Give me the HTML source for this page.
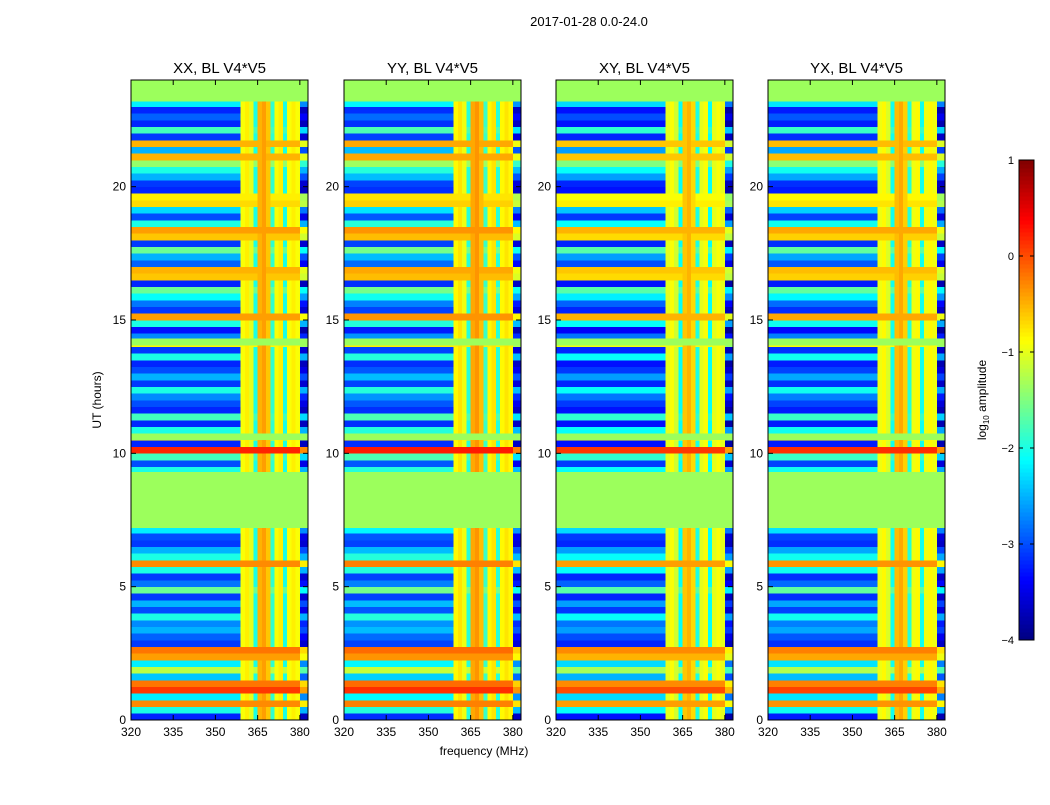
<!DOCTYPE html>
<html><head><meta charset="utf-8"><style>
body{margin:0;background:#fff;font-family:"Liberation Sans",sans-serif;}
svg text{font-family:"Liberation Sans",sans-serif;}
</style></head><body>
<svg id="fig" width="1050" height="800" xmlns="http://www.w3.org/2000/svg">
<rect width="1050" height="800" fill="#fff"/>
<text x="589" y="26" font-size="13" text-anchor="middle">2017-01-28 0.0-24.0</text>
<text x="484" y="755" font-size="12" text-anchor="middle">frequency (MHz)</text>
<text x="101" y="400" font-size="12" text-anchor="middle" transform="rotate(-90 101 400)">UT (hours)</text>
<g id="panels"></g>
<g id="cbar"></g>
</svg>
<script>
const panelTitles=["XX, BL V4*V5","YY, BL V4*V5","XY, BL V4*V5","YX, BL V4*V5"];
const panelOffset=[0,0.05,-0.1,-0.05];
const xTicks=[320,335,350,365,380];
const yTicks=[0,5,10,15,20];
const cbarTicks=[1,0,-1,-2,-3,-4];
// log10 amplitude per 0.25 h time bin (0..24 h), clean band
const rowVals=[-3.2,-2.0,-0.3,-2.2,0.1,-0.2,-2.4,-1.2,-2.2,-0.4,-0.2,-3.1,-2.9,-2.5,-2.7,-2.0,-3.0,-2.5,-3.1,-1.6,-2.8,-3.1,-2.0,-0.3,-2.0,-2.5,-3.1,-3.0,-2.2,
-0.85,-0.85,-0.85,-0.85,-0.85,-0.85,-0.85,-0.85,
-2.0,-3.0,-1.8,0.2,-3.2,-0.85,-2.0,-3.2,-1.8,-3.2,-3.0,-2.7,-2.0,-3.1,-2.5,-3.0,-3.2,-2.0,-3.1,-0.85,-2.7,-3.3,-2.0,-0.4,-3.1,-2.8,-2.1,-1.6,-3.2,-0.6,-0.5,-2.9,-2.5,-1.6,-3.1,-0.6,-0.4,-2.0,-3.0,-2.3,-0.7,-0.8,-3.2,-3.1,-2.5,-2.0,-1.4,-0.5,-2.5,-0.5,-3.1,-1.8,-3.2,-2.9,-3.2,-2.2,-0.85,-0.85,-0.85];
// frequency bins (1.5 MHz from 320): floor value added by RFI (-9 = none)
const colFloor=[-9,-9,-9,-9,-9,-9,-9,-9,-9,-9,-9,-9,-9,-9,-9,-9,-9,-9,-9,-9,-9,-9,-9,-9,-9,-9,
-0.9,-0.8,-1.0,-2.0,-0.5,-0.4,-0.6,-1.9,-0.9,-0.8,-2.0,-0.9,-0.8,-0.9,-9,-9];
const colShift=[0,0,0,0,0,0,0,0,0,0,0,0,0,0,0,0,0,0,0,0,0,0,0,0,0,0,0,0,0,0,0,0,0,0,0,0,0,0,0,0,-0.5,-0.5];
const flags=[[7.2,9.3],[10.5,10.75],[14.05,14.3],[23.2,24]];
const panelX=[131,344,556,768], PW=177, PT=80, PB=720;
const F0=320,F1=382.9,T0=0,T1=24;
function jet(v){let x=(v+4)/5;x=Math.max(0,Math.min(1,x));
 const c=t=>Math.round(255*Math.max(0,Math.min(1,t)));
 return `rgb(${c(1.5-Math.abs(4*x-3))},${c(1.5-Math.abs(4*x-2))},${c(1.5-Math.abs(4*x-1))})`;}
const NS="http://www.w3.org/2000/svg";
function mk(t,a,p){const e=document.createElementNS(NS,t);for(const k in a)e.setAttribute(k,a[k]);p.appendChild(e);return e;}
const G=document.getElementById('panels');
panelX.forEach((px,pi)=>{
 const xs=f=>px+(f-F0)/(F1-F0)*PW;
 const ys=t=>PB-(t-T0)/(T1-T0)*(PB-PT);
 const g=mk('g',{},G);
 
 
 const hm=mk('g',{'shape-rendering':'crispEdges'},g);
 
 
 const dt=24/rowVals.length, df=1.5;
 rowVals.forEach((rv,ri)=>{
  colFloor.forEach((cf,ci)=>{
   const f0=F0+ci*df, f1=Math.min(F1,f0+df);
   let v=Math.max(rv+colShift[ci],cf)+panelOffset[pi];
   const r=mk('rect',{x:xs(f0),y:ys((ri+1)*dt),width:xs(f1)-xs(f0)+0.3,height:ys(ri*dt)-ys((ri+1)*dt)+0.3,fill:jet(v)},hm);
   
   
  });
 });
 flags.forEach(fl=>{
  const r=mk('rect',{x:px,y:ys(fl[1]),width:PW,height:ys(fl[0])-ys(fl[1]),fill:'#9cff5c'},hm);
  
  
 });
 const fr=mk('rect',{x:px,y:PT,width:PW,height:PB-PT,fill:'none',stroke:'#000','stroke-width':1},g);
 
 
 const tt=mk('text',{x:px+PW/2,y:73,'font-size':15,'text-anchor':'middle'},g);tt.textContent=panelTitles[pi];
 
 
 xTicks.forEach(f=>{const x=xs(f);
  mk('line',{x1:x,x2:x,y1:PB,y2:PB-5,stroke:'#000'},g);mk('line',{x1:x,x2:x,y1:PT,y2:PT+5,stroke:'#000'},g);
  const t=mk('text',{x:x,y:PB+16,'font-size':12,'text-anchor':'middle'},g);t.textContent=f;
  
  });
 yTicks.forEach(h=>{const y=ys(h);
  mk('line',{x1:px,x2:px+5,y1:y,y2:y,stroke:'#000'},g);mk('line',{x1:px+PW,x2:px+PW-5,y1:y,y2:y,stroke:'#000'},g);
  const t=mk('text',{x:px-5,y:y+4,'font-size':12,'text-anchor':'end'},g);t.textContent=h;
  
  });
});
const C=document.getElementById('cbar');


const cx=1019,cw=15,ct=160,cb=640,vmin=-4,vmax=1;
const cy=v=>cb-(v-vmin)/(vmax-vmin)*(cb-ct);
for(let i=0;i<120;i++){const v0=vmin+i*(vmax-vmin)/120,v1=v0+(vmax-vmin)/120;
 mk('rect',{x:cx,y:cy(v1),width:cw,height:cy(v0)-cy(v1)+0.5,fill:jet((v0+v1)/2)},C);}
mk('rect',{x:cx,y:ct,width:cw,height:cb-ct,fill:'none',stroke:'#000'},C);
cbarTicks.forEach(v=>{const y=cy(v);
 mk('line',{x1:cx,x2:cx+4,y1:y,y2:y,stroke:'#000'},C);mk('line',{x1:cx+cw,x2:cx+cw-4,y1:y,y2:y,stroke:'#000'},C);
 const t=mk('text',{x:cx-5,y:y+4,'font-size':11,'text-anchor':'end'},C);t.textContent=v<0?'\u2212'+(-v):v;
 
 });
const cl=mk('text',{x:986,y:400,'font-size':12,'text-anchor':'middle',transform:'rotate(-90 986 400)'},C);
cl.innerHTML='log<tspan font-size="8" dy="3">10</tspan><tspan dy="-3"> amplitude</tspan>';


</script>
</body></html>
